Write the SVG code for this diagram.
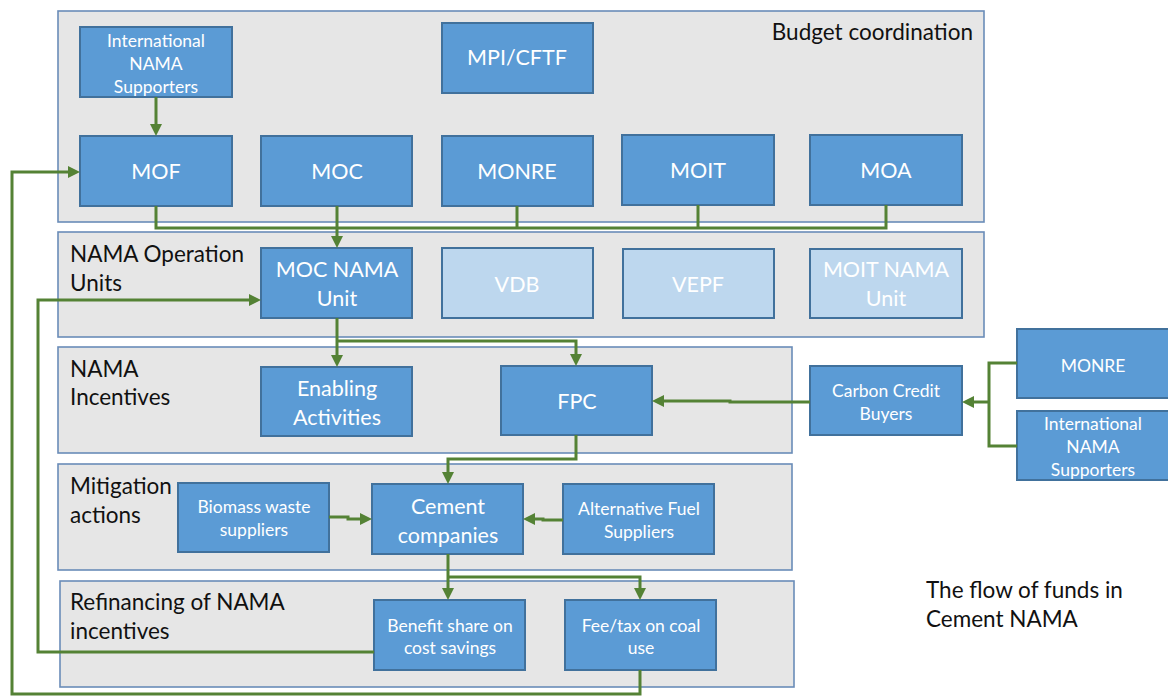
<svg xmlns="http://www.w3.org/2000/svg" width="1168" height="700" viewBox="0 0 1168 700">
<style>
.panel{fill:#E6E6E6;stroke:#6A8CB8;stroke-width:1.6}
.box{fill:#5B9BD5;stroke:#41719C;stroke-width:2}
.lbox{fill:#BDD7EE;stroke:#41719C;stroke-width:2}
.t{font-family:Lato,"Liberation Sans",sans-serif;fill:#fff;text-anchor:middle}
.big{font-size:21.5px}
.sm{font-size:17.5px}
.pl{font-family:Lato,"Liberation Sans",sans-serif;fill:#111;font-size:22.5px}
.c{fill:none;stroke:#548235;stroke-width:3}
.ca{fill:none;stroke:#548235;stroke-width:3;marker-end:url(#ah)}
</style>
<defs>
<marker id="ah" markerUnits="userSpaceOnUse" markerWidth="12" markerHeight="12" refX="4" refY="6" orient="auto">
<path d="M0,0 L12,6 L0,12 z" fill="#548235"/>
</marker>
</defs>
<rect width="1168" height="700" fill="#fff"/>

<g id="panel-budget"><rect class="panel" x="58" y="11" width="926" height="211"/><text class="pl" x="973" y="40" text-anchor="end">Budget coordination</text></g>
<g id="panel-units"><rect class="panel" x="58" y="232" width="926" height="105"/><text class="pl" x="70" y="262">NAMA Operation</text><text class="pl" x="70" y="291">Units</text></g>
<g id="panel-incentives"><rect class="panel" x="58" y="347" width="734" height="106"/><text class="pl" x="70" y="377">NAMA</text><text class="pl" x="70" y="405">Incentives</text></g>
<g id="panel-mitigation"><rect class="panel" x="58" y="464" width="734" height="106"/><text class="pl" x="70" y="494">Mitigation</text><text class="pl" x="70" y="523">actions</text></g>
<g id="panel-refinancing"><rect class="panel" x="60" y="581" width="734" height="106"/><text class="pl" x="70" y="610">Refinancing of NAMA</text><text class="pl" x="70" y="639">incentives</text></g>

<g id="node-intl1"><rect class="box" x="80" y="27" width="152" height="70"/><text class="t sm" x="156" y="47">International</text><text class="t sm" x="156" y="70">NAMA</text><text class="t sm" x="156" y="93">Supporters</text></g>
<g id="node-mpi"><rect class="box" x="442" y="23" width="151" height="70"/><text class="t big" x="517" y="65">MPI/CFTF</text></g>
<g id="node-mof"><rect class="box" x="80" y="136" width="152" height="70"/><text class="t big" x="156" y="179">MOF</text></g>
<g id="node-moc"><rect class="box" x="261" y="136" width="151" height="70"/><text class="t big" x="337" y="179">MOC</text></g>
<g id="node-monre1"><rect class="box" x="442" y="136" width="151" height="70"/><text class="t big" x="517" y="179">MONRE</text></g>
<g id="node-moit"><rect class="box" x="622" y="135" width="152" height="70"/><text class="t big" x="698" y="178">MOIT</text></g>
<g id="node-moa"><rect class="box" x="810" y="135" width="152" height="70"/><text class="t big" x="886" y="178">MOA</text></g>

<g id="node-mocunit"><rect class="box" x="261" y="248" width="151" height="70"/><text class="t big" x="337" y="277">MOC NAMA</text><text class="t big" x="337" y="306">Unit</text></g>
<g id="node-vdb"><rect class="lbox" x="442" y="248" width="151" height="70"/><text class="t big" x="517" y="292">VDB</text></g>
<g id="node-vepf"><rect class="lbox" x="623" y="249" width="151" height="69"/><text class="t big" x="698" y="292">VEPF</text></g>
<g id="node-moitunit"><rect class="lbox" x="810" y="249" width="152" height="69"/><text class="t big" x="886" y="277">MOIT NAMA</text><text class="t big" x="886" y="306">Unit</text></g>

<g id="node-enabling"><rect class="box" x="261" y="367" width="151" height="69"/><text class="t big" x="337" y="396">Enabling</text><text class="t big" x="337" y="425">Activities</text></g>
<g id="node-fpc"><rect class="box" x="501" y="366" width="151" height="69"/><text class="t big" x="577" y="409">FPC</text></g>
<g id="node-ccb"><rect class="box" x="810" y="366" width="152" height="69"/><text class="t sm" x="886" y="397">Carbon Credit</text><text class="t sm" x="886" y="420">Buyers</text></g>
<g id="node-monre2"><rect class="box" x="1017" y="329" width="153" height="69"/><text class="t sm" x="1093" y="372">MONRE</text></g>
<g id="node-intl2"><rect class="box" x="1017" y="411" width="153" height="69"/><text class="t sm" x="1093" y="430">International</text><text class="t sm" x="1093" y="453">NAMA</text><text class="t sm" x="1093" y="476">Supporters</text></g>

<g id="node-biomass"><rect class="box" x="178" y="483" width="151" height="69"/><text class="t sm" x="254" y="513">Biomass waste</text><text class="t sm" x="254" y="536">suppliers</text></g>
<g id="node-cement"><rect class="box" x="372" y="484" width="151" height="70"/><text class="t big" x="448" y="514">Cement</text><text class="t big" x="448" y="543">companies</text></g>
<g id="node-altfuel"><rect class="box" x="563" y="484" width="151" height="70"/><text class="t sm" x="639" y="515">Alternative Fuel</text><text class="t sm" x="639" y="538">Suppliers</text></g>

<g id="node-benefit"><rect class="box" x="374" y="600" width="151" height="70"/><text class="t sm" x="450" y="632">Benefit share on</text><text class="t sm" x="450" y="654">cost savings</text></g>
<g id="node-fee"><rect class="box" x="565" y="600" width="151" height="70"/><text class="t sm" x="641" y="632">Fee/tax on coal</text><text class="t sm" x="641" y="654">use</text></g>

<g id="node-caption"><text class="pl" x="926" y="598">The flow of funds in</text><text class="pl" x="926" y="627">Cement NAMA</text></g>

<g id="connectors">
<path class="c" d="M156,206 V228 H886 V205"/>
<path class="c" d="M517,206 V228"/>
<path class="c" d="M698,205 V228"/>
<path class="ca" d="M337,206 V240"/>
<path class="ca" d="M156,97 V128"/>
<path class="ca" d="M640,670 V694 H12 V172 H72"/>
<path class="ca" d="M374,652 H38 V300 H253"/>
<path class="ca" d="M337,318 V359"/>
<path class="ca" d="M337,341 H576 V358"/>
<path class="ca" d="M576,435 V459 H448 V476"/>
<path class="ca" d="M810,402 H730 V401 H660"/>
<path class="c" d="M1017,363 H989 V446 H1017"/>
<path class="ca" d="M989,402 H970"/>
<path class="ca" d="M329,517 H348 V519 H364"/>
<path class="ca" d="M563,520 H543 V519 H531"/>
<path class="ca" d="M448,554 V592"/>
<path class="ca" d="M448,577 H640 V592"/>
</g>
</svg>
